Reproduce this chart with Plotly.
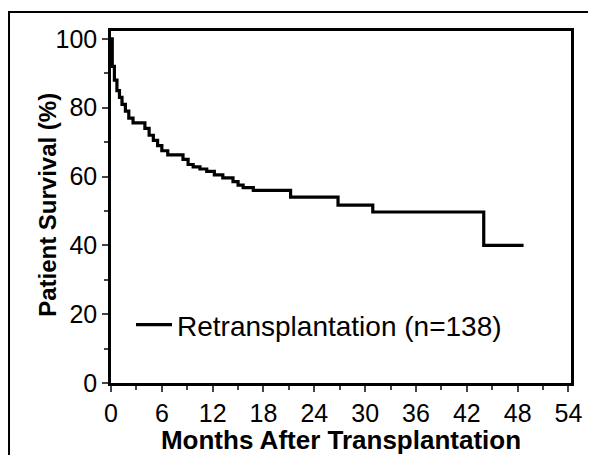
import plotly.graph_objects as go

months = [0, 0.15, 0.4, 0.7, 1.0, 1.3, 1.7, 2.1, 2.6, 4.0, 4.5, 5.0, 5.5, 6.0, 6.7,
          8.5, 9.1, 9.7, 10.5, 11.3, 12.2, 13.2, 14.4, 15.0, 15.6, 16.8, 21.2, 26.8,
          30.9, 44.0, 48.7]
survival = [100, 92, 88, 85, 83, 81, 79, 77, 75.6, 74, 72, 70.5, 69, 67.5, 66.3,
            65, 63.5, 62.8, 62.2, 61.5, 60.5, 59.6, 58.5, 57.5, 56.8, 56, 54, 51.7,
            49.7, 40, 40]
series_name = "Retransplantation (n=138)"
x_title = "Months After Transplantation"
y_title = "Patient Survival (%)"
x_ticks = [0, 6, 12, 18, 24, 30, 36, 42, 48, 54]
y_ticks = [0, 20, 40, 60, 80, 100]

FAM = "Liberation Sans, Arial, sans-serif"

fig = go.Figure()
fig.add_trace(go.Scatter(x=months, y=survival, mode="lines", name=series_name,
                         line=dict(color="black", width=3.2, shape="hv")))

# page body has an 8px default margin, so the figure is sized 8px smaller
fig.update_layout(
    width=588, height=447,
    margin=dict(l=103, r=25, t=23, b=72),
    paper_bgcolor="white", plot_bgcolor="white",
    font=dict(family=FAM, size=25, color="black"),
    showlegend=True,
    legend=dict(x=0.0435, y=0.165, xanchor="left", yanchor="middle", itemwidth=36,
                bgcolor="rgba(0,0,0,0)", font=dict(family=FAM, size=28, color="black")),
    xaxis=dict(range=[0, 54.3], tickvals=x_ticks, ticks="outside", ticklen=6, tickwidth=2,
               showline=True, linewidth=2.5, linecolor="black", mirror=True,
               showgrid=False, zeroline=False, automargin=False,
               tickfont=dict(family=FAM, size=25, color="black"),
               minor=dict(dtick=3, tick0=0, ticks="outside", ticklen=4, tickwidth=1.5),
               title=dict(text="<b>" + x_title + "</b>", standoff=2,
                          font=dict(family=FAM, size=26, color="black"))),
    yaxis=dict(range=[0, 102.3], tickvals=y_ticks, ticks="outside", ticklen=6, tickwidth=2,
               showline=True, linewidth=2.5, linecolor="black", mirror=True,
               showgrid=False, zeroline=False, automargin=False,
               tickfont=dict(family=FAM, size=25, color="black"),
               minor=dict(dtick=10, tick0=0, ticks="outside", ticklen=4, tickwidth=1.5)),
    annotations=[dict(text="<b>" + y_title + "</b>", xref="paper", yref="paper",
                      x=-0.137, y=0.506, xanchor="center", yanchor="middle",
                      textangle=-90, showarrow=False,
                      font=dict(family=FAM, size=24, color="black"))],
    shapes=[dict(type="rect", xref="paper", yref="paper",
                 x0=-0.2217, x1=1.05, y0=-0.25, y1=1.054,
                 line=dict(color="black", width=2))],
)

fig.write_html("out.html")
